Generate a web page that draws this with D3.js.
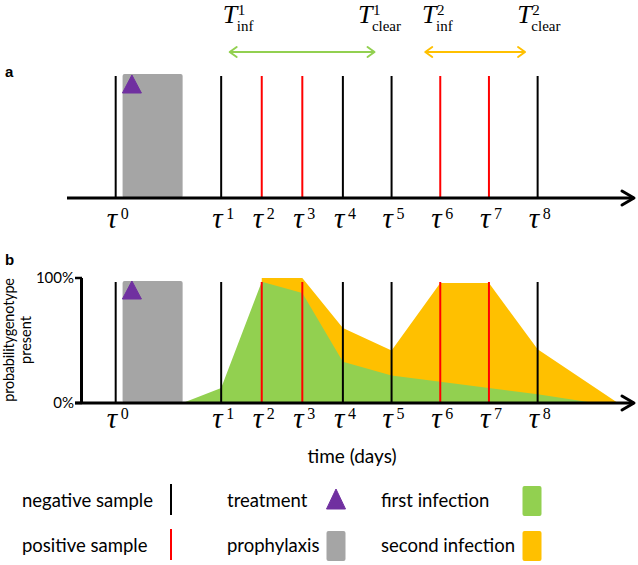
<!DOCTYPE html>
<html><head><meta charset="utf-8">
<script src="https://cdn.jsdelivr.net/npm/d3@7"></script>
<style>body{margin:0;background:#fff}svg{display:block}</style>
</head><body><svg id="c" width="638" height="565"></svg>
<script>
// ---- data ----
const tauLabels = ["0","1","2","3","4","5","6","7","8"];
const tauDays = [0, 2.6, 3.6, 4.6, 5.6, 6.8, 8, 9.2, 10.4];
const sampleResult = ["neg","neg","pos","pos","neg","neg","pos","pos","neg"];
const prophylaxisDays = [0.17, 1.65];
const treatmentDay = 0.4;
const firstInfDays = [1.65, 2.6, 3.6, 4.6, 5.6, 6.8, 8, 9.2, 10.4, 11.8];
const firstInfProb = [0, 0.12, 0.97, 0.88, 0.33, 0.22, 0.17, 0.12, 0.07, 0];
const secondInfDays = [3.6, 4.6, 5.6, 6.8, 8, 9.2, 10.4, 12.38];
const secondInfTop = [1.0, 1.0, 0.60, 0.42, 0.96, 0.96, 0.43, 0];
const intervalLabels = [
  {sup:"1", sub:"inf", day:2.64}, {sup:"1", sub:"clear", day:5.97},
  {sup:"2", sub:"inf", day:7.55}, {sup:"2", sub:"clear", day:9.9}
];
const infIntervals = [{from:2.81, to:6.38, key:"first"}, {from:7.63, to:10.09, key:"second"}];
const yTicks = [0, 1];
const yTickLabels = ["0%", "100%"];
const legendItems = [
  {label:"negative sample", type:"line", key:"neg", col:0, row:0},
  {label:"positive sample", type:"line", key:"pos", col:0, row:1},
  {label:"treatment", type:"tri", key:"treat", col:1, row:0},
  {label:"prophylaxis", type:"rect", key:"proph", col:1, row:1},
  {label:"first infection", type:"rect", key:"first", col:2, row:0},
  {label:"second infection", type:"rect", key:"second", col:2, row:1}
];

// ---- styles ----
const colors = {neg:"#000", pos:"#FF0000", treat:"#7030A0", proph:"#A5A5A5", first:"#92D050", second:"#FFC000"};
const serif = "'Liberation Serif','Times New Roman',serif";
const sans = "Lato,'Open Sans',sans-serif";

const svg = d3.select("#c");
const x = d3.scaleLinear().domain([-1.2, 12.8]).range([67, 635]);
const yb = d3.scaleLinear().domain([0, 1]).range([403, 278]);

function chevron(g, xTip, yTip, dir, len, half, color, w) {
  g.append("path")
    .attr("d", `M${xTip - dir*len},${yTip - half}L${xTip},${yTip}L${xTip - dir*len},${yTip + half}`)
    .attr("fill","none").attr("stroke",color).attr("stroke-width",w)
    .attr("stroke-linecap","round").attr("stroke-linejoin","round");
}
function tri(g, cx, top, w, h) {
  g.append("path").attr("d", `M${cx},${top}L${cx + w/2},${top + h}L${cx - w/2},${top + h}Z`)
    .attr("fill", colors.treat).attr("stroke", colors.treat).attr("stroke-width",1).attr("stroke-linejoin","round");
}
function tauLabelsDraw(g, baseline) {
  tauDays.forEach((d,i) => {
    g.append("text").attr("x", x(d) - 9).attr("y", baseline)
      .attr("font-family", serif).attr("font-style","italic").attr("font-size", 29).text("τ");
    g.append("text").attr("x", x(d) + 5).attr("y", baseline - 9)
      .attr("font-family", serif).attr("font-size", 16).text(tauLabels[i]);
  });
}

// ---------- Panel a ----------
const a = svg.append("g");
a.append("text").attr("x",5).attr("y",77).attr("font-family","'Liberation Sans',Arial,sans-serif")
  .attr("font-weight","bold").attr("font-size",15).text("a");
a.append("rect").attr("x", x(prophylaxisDays[0])).attr("y",74)
  .attr("width", x(prophylaxisDays[1]) - x(prophylaxisDays[0])).attr("height", 124)
  .attr("rx",2).attr("fill", colors.proph);
tri(a, x(treatmentDay), 75, 19, 18);
tauDays.forEach((d,i) => {
  a.append("line").attr("x1",x(d)).attr("x2",x(d)).attr("y1",76).attr("y2",198)
    .attr("stroke", colors[sampleResult[i]]).attr("stroke-width",2);
});
a.append("line").attr("x1",67).attr("x2",634).attr("y1",198).attr("y2",198).attr("stroke","#000").attr("stroke-width",3);
chevron(a, 634, 198, 1, 12, 7, "#000", 3);
tauLabelsDraw(a, 228);

// interval labels
intervalLabels.forEach(l => {
  const x0 = x(l.day);
  a.append("text").attr("x",x0).attr("y",23).attr("font-family",serif).attr("font-style","italic")
    .attr("font-size",26).text("T");
  a.append("text").attr("x",x0+15).attr("y",15).attr("font-family",serif).attr("font-size",15).text(l.sup);
  a.append("text").attr("x",x0+14).attr("y",31).attr("font-family",serif).attr("font-size",15).text(l.sub);
});
infIntervals.forEach(iv => {
  const c = colors[iv.key];
  a.append("line").attr("x1",x(iv.from)).attr("x2",x(iv.to)).attr("y1",52).attr("y2",52)
    .attr("stroke",c).attr("stroke-width",2);
  chevron(a, x(iv.to), 52, 1, 7, 5, c, 2);
  chevron(a, x(iv.from), 52, -1, 7, 5, c, 2);
});

// ---------- Panel b ----------
const b = svg.append("g");
b.append("text").attr("x",5).attr("y",265).attr("font-family","'Liberation Sans',Arial,sans-serif")
  .attr("font-weight","bold").attr("font-size",15).text("b");
b.append("rect").attr("x", x(prophylaxisDays[0])).attr("y",281)
  .attr("width", x(prophylaxisDays[1]) - x(prophylaxisDays[0])).attr("height", 122)
  .attr("rx",2).attr("fill", colors.proph);
tri(b, x(treatmentDay), 281, 19, 18);

const secPts = secondInfDays.map((d,i) => [d, secondInfTop[i]]);
const areaGen = d3.area().x(p => x(p[0])).y0(yb(0)).y1(p => yb(p[1]));
b.append("path").datum(secPts).attr("d", areaGen).attr("fill", colors.second);
const firstPts = firstInfDays.map((d,i) => [d, firstInfProb[i]]);
b.append("path").datum(firstPts).attr("d", areaGen).attr("fill", colors.first);

tauDays.forEach((d,i) => {
  b.append("line").attr("x1",x(d)).attr("x2",x(d)).attr("y1",282).attr("y2",403)
    .attr("stroke", colors[sampleResult[i]]).attr("stroke-width",2);
});
b.append("line").attr("x1",81.5).attr("x2",81.5).attr("y1",278).attr("y2",404).attr("stroke","#000").attr("stroke-width",3);
yTicks.forEach((t,i) => {
  b.append("line").attr("x1",75).attr("x2",82).attr("y1",yb(t)).attr("y2",yb(t)).attr("stroke","#000").attr("stroke-width",2.5);
  b.append("text").attr("x",74).attr("y",yb(t)+5).attr("text-anchor","end")
    .attr("font-family",sans).attr("font-size",15).text(yTickLabels[i]);
});
b.append("line").attr("x1",75).attr("x2",634).attr("y1",403).attr("y2",403).attr("stroke","#000").attr("stroke-width",3);
chevron(b, 634, 403, 1, 12, 7, "#000", 3);
tauLabelsDraw(b, 428);

b.append("text").attr("transform","translate(14,340) rotate(-90)").attr("text-anchor","middle")
  .attr("font-family",sans).attr("font-size",14.5).attr("letter-spacing",-0.2).text("probabilitygenotype");
b.append("text").attr("transform","translate(31,340) rotate(-90)").attr("text-anchor","middle")
  .attr("font-family",sans).attr("font-size",14.5).text("present");
b.append("text").attr("x",352).attr("y",463).attr("text-anchor","middle")
  .attr("font-family",sans).attr("font-size",19).text("time (days)");

// ---------- Legend ----------
const lg = svg.append("g");
const colTextX = [22, 227, 381];
const colSymX = [171, 336, 532];
const rowY = [501, 546];
legendItems.forEach(it => {
  const ty = rowY[it.row];
  lg.append("text").attr("x", colTextX[it.col]).attr("y", ty + 6)
    .attr("font-family", sans).attr("font-size", 18.5).text(it.label);
  const sx = colSymX[it.col];
  if (it.type === "line") {
    lg.append("line").attr("x1",sx).attr("x2",sx).attr("y1",ty-17).attr("y2",ty+14)
      .attr("stroke",colors[it.key]).attr("stroke-width",2);
  } else if (it.type === "tri") {
    tri(lg, sx, ty-12, 19, 20);
  } else {
    lg.append("rect").attr("x",sx-9.5).attr("y",ty-15).attr("width",19).attr("height",30)
      .attr("rx",2).attr("fill",colors[it.key]);
  }
});
</script></body></html>
